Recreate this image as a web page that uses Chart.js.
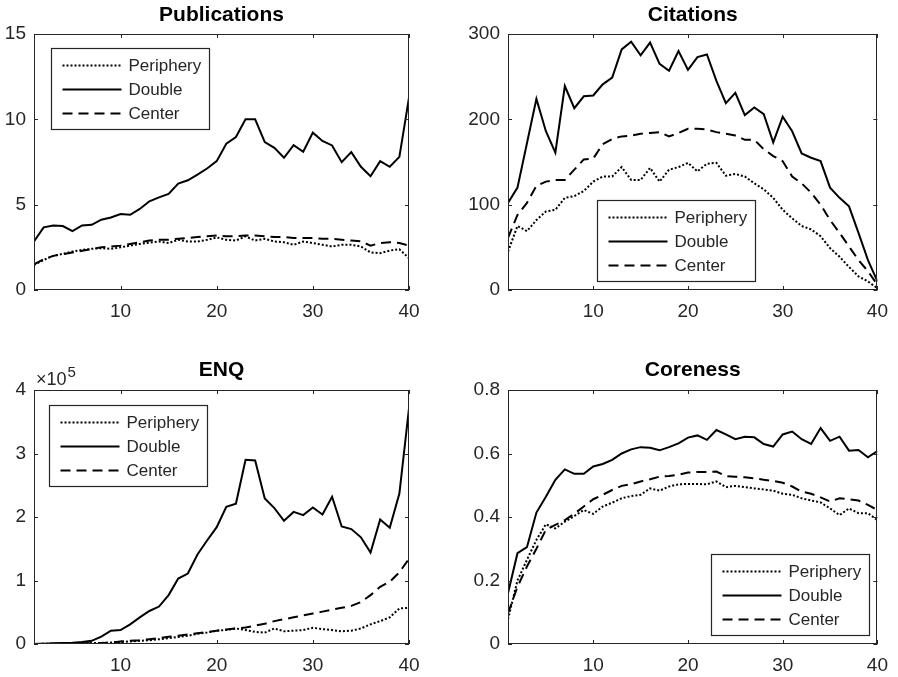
<!DOCTYPE html>
<html>
<head>
<meta charset="utf-8">
<script src="https://cdn.jsdelivr.net/npm/chart.js@4.4.0/dist/chart.umd.min.js"></script>
<style>
  body { margin: 0; background: #fff; }
  #wrap { position: relative; width: 898px; height: 677px; }
  canvas { position: absolute; }
</style>
</head>
<body>
<div id="wrap">
  <canvas id="pubChart" width="449" height="338" style="left:0;top:0"></canvas>
  <canvas id="citeChart" width="449" height="338" style="left:449px;top:0"></canvas>
  <canvas id="enqChart" width="449" height="339" style="left:0;top:338px"></canvas>
  <canvas id="coreChart" width="449" height="339" style="left:449px;top:338px"></canvas>
</div>
<script>
// ---------- data ----------
const years = [1,2,3,4,5,6,7,8,9,10,11,12,13,14,15,16,17,18,19,20,21,22,23,24,25,26,27,28,29,30,31,32,33,34,35,36,37,38,39,40];
const seriesNames = ["Periphery", "Double", "Center"];
const xTicks = [10, 20, 30, 40];

const pubPeriphery = [1.47,1.76,2.0,2.12,2.25,2.35,2.41,2.45,2.41,2.5,2.6,2.7,2.78,2.84,2.75,2.94,2.84,2.84,2.94,3.08,2.94,2.9,3.14,2.9,3.0,2.84,2.8,2.65,2.84,2.75,2.65,2.55,2.65,2.65,2.55,2.2,2.16,2.31,2.39,1.86];
const pubDouble = [2.84,3.67,3.78,3.75,3.45,3.78,3.82,4.12,4.25,4.45,4.41,4.75,5.2,5.43,5.63,6.24,6.43,6.76,7.12,7.55,8.57,8.96,10.0,10.0,8.67,8.33,7.75,8.49,8.1,9.22,8.73,8.47,7.49,8.08,7.22,6.67,7.55,7.22,7.8,11.27];
const pubCenter = [1.5,1.8,2.0,2.1,2.2,2.3,2.4,2.5,2.55,2.6,2.7,2.8,2.9,2.95,2.95,3.0,3.05,3.1,3.15,3.2,3.15,3.15,3.2,3.2,3.15,3.1,3.1,3.05,3.05,3.05,3.0,3.0,2.95,2.9,2.85,2.6,2.75,2.8,2.75,2.6];
const pubTicks = [0, 5, 10, 15];

const citePeriphery = [45,75,69,82,92,94,108,110,116,127,133,133,144,129,129,143,127,141,144,149,139,148,149,134,136,133,125,118,108,94,84,75,71,63,49,39,27,16,10,2];
const citeDouble = [102,120,172,224,186,161,239,213,227,228,241,249,282,291,275,290,265,257,280,258,273,276,245,219,231,205,214,206,173,203,186,160,155,151,120,108,98,67,35,10];
const citeCenter = [61,88,102,122,127,129,129,141,153,154,171,177,180,181,183,184,185,180,184,189,189,188,185,183,181,176,176,165,157,151,133,125,114,100,82,67,51,35,22,6];
const citeTicks = [0, 100, 200, 300];

// ENQ values in units of 10^5
const enqPeriphery = [0,0.002,0.004,0.006,0.008,0.01,0.013,0.017,0.022,0.03,0.04,0.05,0.06,0.075,0.09,0.11,0.13,0.16,0.18,0.21,0.22,0.245,0.22,0.19,0.18,0.245,0.2,0.21,0.22,0.255,0.235,0.22,0.2,0.21,0.245,0.31,0.36,0.42,0.56,0.57];
const enqDouble = [0,0.005,0.01,0.015,0.02,0.03,0.05,0.115,0.21,0.22,0.31,0.42,0.52,0.59,0.77,1.03,1.11,1.41,1.63,1.84,2.16,2.21,2.9,2.89,2.29,2.14,1.94,2.08,2.03,2.15,2.04,2.32,1.85,1.81,1.68,1.44,1.96,1.83,2.37,3.71];
const enqCenter = [0,0.002,0.004,0.006,0.008,0.01,0.013,0.017,0.022,0.04,0.05,0.06,0.075,0.09,0.115,0.13,0.15,0.17,0.19,0.21,0.23,0.245,0.26,0.29,0.32,0.36,0.39,0.42,0.45,0.48,0.51,0.54,0.57,0.6,0.66,0.77,0.9,0.98,1.13,1.34];
const enqTicks = [0, 1, 2, 3, 4];

const corePeriphery = [0.078,0.2,0.265,0.328,0.377,0.364,0.385,0.403,0.422,0.41,0.433,0.445,0.459,0.466,0.47,0.49,0.483,0.496,0.503,0.504,0.504,0.503,0.512,0.494,0.498,0.494,0.49,0.487,0.483,0.473,0.47,0.459,0.452,0.446,0.427,0.406,0.427,0.412,0.412,0.39];
const coreDouble = [0.16,0.286,0.305,0.414,0.464,0.517,0.55,0.536,0.536,0.559,0.567,0.58,0.6,0.613,0.62,0.618,0.61,0.62,0.632,0.65,0.657,0.643,0.674,0.66,0.645,0.653,0.651,0.63,0.622,0.66,0.669,0.645,0.63,0.68,0.64,0.653,0.609,0.611,0.588,0.608];
const coreCenter = [0.097,0.18,0.244,0.30,0.36,0.375,0.39,0.41,0.433,0.456,0.47,0.485,0.498,0.503,0.512,0.519,0.527,0.529,0.533,0.54,0.542,0.542,0.543,0.529,0.527,0.525,0.522,0.517,0.514,0.508,0.496,0.48,0.473,0.462,0.449,0.459,0.456,0.452,0.438,0.422];
const coreTicks = [0, 0.2, 0.4, 0.6, 0.8];

// ---------- styles ----------
const axisColor = "#262626";
const lineStyles = [
  { borderDash: [2, 2], borderWidth: 2 },   // Periphery  :
  { borderDash: [], borderWidth: 2 },       // Double     -
  { borderDash: [10, 6], borderWidth: 2 }   // Center     --
];
Chart.defaults.font.family = "'Liberation Sans', Arial, sans-serif";
Chart.defaults.color = axisColor;

// box, inward ticks, legend inside the axes, exponent label
const matlabFrame = {
  id: "matlabFrame",
  afterDatasetsDraw(chart, args, opts) {
    const { ctx, chartArea: a, scales: { x, y } } = chart;
    ctx.save();
    ctx.strokeStyle = axisColor;
    ctx.lineWidth = 1;
    ctx.beginPath();
    x.ticks.forEach(t => {
      const px = Math.round(x.getPixelForValue(t.value)) + 0.5;
      ctx.moveTo(px, a.bottom); ctx.lineTo(px, a.bottom - 4);
      ctx.moveTo(px, a.top); ctx.lineTo(px, a.top + 4);
    });
    y.ticks.forEach(t => {
      const py = Math.round(y.getPixelForValue(t.value)) + 0.5;
      ctx.moveTo(a.left, py); ctx.lineTo(a.left + 4, py);
      ctx.moveTo(a.right, py); ctx.lineTo(a.right - 4, py);
    });
    ctx.stroke();
    ctx.strokeRect(Math.round(a.left) + 0.5, Math.round(a.top) + 0.5, Math.round(a.width) - 1, Math.round(a.height) - 1);

    // legend
    const bx = Math.round(a.left + opts.legendX) + 0.5;
    const by = Math.round(a.top + opts.legendY) + 0.5;
    ctx.fillStyle = "#fff";
    ctx.fillRect(bx, by, 158, 81);
    ctx.lineWidth = 1.2;
    ctx.strokeRect(bx, by, 158, 81);
    ctx.font = "17px 'Liberation Sans', Arial, sans-serif";
    ctx.textBaseline = "middle";
    chart.data.datasets.forEach((ds, i) => {
      const ry = by + 17 + i * 24;
      ctx.strokeStyle = "#000";
      ctx.lineWidth = ds.borderWidth;
      ctx.setLineDash(ds.borderDash);
      ctx.beginPath();
      ctx.moveTo(bx + 11, ry); ctx.lineTo(bx + 70, ry);
      ctx.stroke();
      ctx.setLineDash([]);
      ctx.fillStyle = axisColor;
      ctx.fillText(ds.label, bx + 77, ry + 1);
    });

    if (opts.exponent) {
      ctx.fillStyle = axisColor;
      ctx.textBaseline = "alphabetic";
      ctx.font = "18px 'Liberation Sans', Arial, sans-serif";
      ctx.fillText("\u00d710", a.left + 2, a.top - 5);
      const w = ctx.measureText("\u00d710").width;
      ctx.font = "15px 'Liberation Sans', Arial, sans-serif";
      ctx.fillText(opts.exponent, a.left + 3 + w, a.top - 13);
    }
    ctx.restore();
  }
};

function makePanel(id, title, values, yTicks, yWidth, rightPad, titlePad, xHeight, legendX, legendY, exponent) {
  return new Chart(document.getElementById(id), {
    type: "line",
    data: {
      labels: years,
      datasets: values.map((v, i) => ({
        label: seriesNames[i],
        data: v.map((val, k) => ({ x: years[k], y: val })),
        borderColor: "#000",
        borderWidth: lineStyles[i].borderWidth,
        borderDash: lineStyles[i].borderDash,
        pointRadius: 0,
        tension: 0,
        fill: false
      }))
    },
    options: {
      responsive: false,
      animation: false,
      devicePixelRatio: 1,
      layout: { padding: { left: 0, right: rightPad, top: 0, bottom: 0 } },
      plugins: {
        legend: { display: false },
        tooltip: { enabled: false },
        title: {
          display: true,
          text: title,
          color: "#000",
          fullSize: false,
          font: { size: 21, weight: "bold" },
          padding: titlePad
        },
        matlabFrame: { legendX: legendX, legendY: legendY, exponent: exponent }
      },
      scales: {
        x: {
          type: "linear",
          min: 1,
          max: 40,
          afterBuildTicks: s => { s.ticks = xTicks.map(v => ({ value: v })); },
          afterFit: s => { s.height = xHeight; },
          grid: { display: false, drawTicks: false },
          border: { display: false },
          ticks: { padding: 10, maxRotation: 0, autoSkip: false, font: { size: 19 } }
        },
        y: {
          min: yTicks[0],
          max: yTicks[yTicks.length - 1],
          afterBuildTicks: s => { s.ticks = yTicks.map(v => ({ value: v })); },
          afterFit: s => { s.width = yWidth; },
          grid: { display: false, drawTicks: false },
          border: { display: false },
          ticks: { padding: 8, autoSkip: false, font: { size: 19 } }
        }
      }
    },
    plugins: [matlabFrame]
  });
}

makePanel("pubChart", "Publications", [pubPeriphery, pubDouble, pubCenter], pubTicks,
  34, 40, { top: 2.4, bottom: 6.4 }, 48, 17, 14, null);
makePanel("citeChart", "Citations", [citePeriphery, citeDouble, citeCenter], citeTicks,
  59, 15, { top: 2.4, bottom: 6.4 }, 48, 89, 166, null);
makePanel("enqChart", "ENQ", [enqPeriphery, enqDouble, enqCenter], enqTicks,
  34, 40, { top: 19.4, bottom: 7.4 }, 33, 15, 15, "5");
makePanel("coreChart", "Coreness", [corePeriphery, coreDouble, coreCenter], coreTicks,
  59, 15, { top: 19.4, bottom: 7.4 }, 33, 203, 164, null);
</script>
</body>
</html>
